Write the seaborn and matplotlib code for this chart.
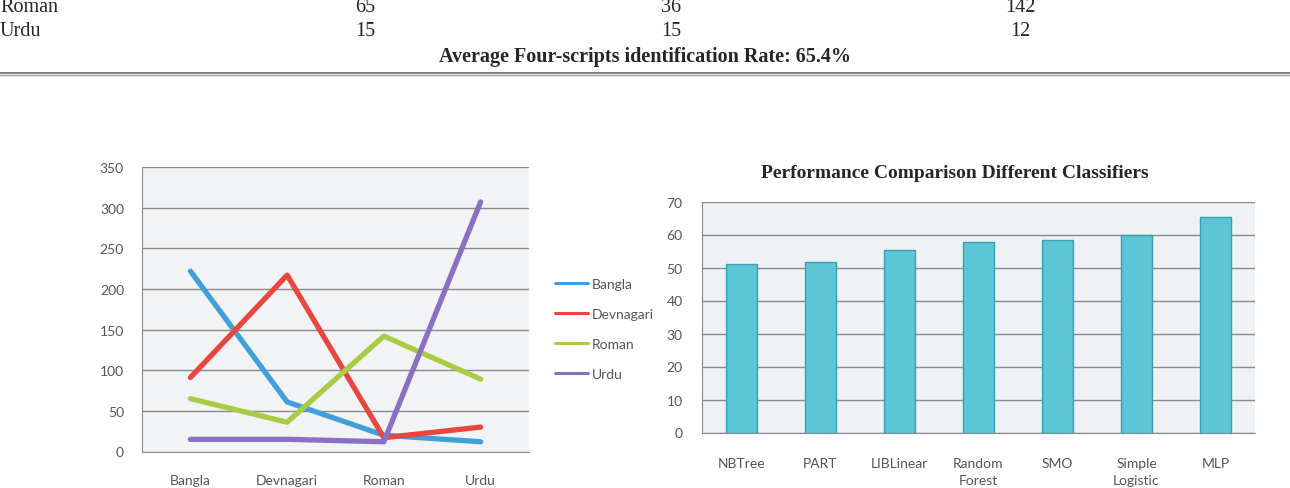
import numpy as np
import pandas as pd
import matplotlib
matplotlib.use("Agg")
import matplotlib.pyplot as plt
import seaborn as sns

# ---- data ----
scripts = ["Bangla", "Devnagari", "Roman", "Urdu"]
bangla = [222, 61, 20, 12]
devnagari = [91, 217, 17, 30]
roman = [65, 36, 142, 89]
urdu = [15, 15, 12, 307]

classifiers = ["NBTree", "PART", "LIBLinear", "Random\nForest", "SMO", "Simple\nLogistic", "MLP"]
accuracy = [51.0, 51.7, 55.3, 57.6, 58.2, 59.8, 65.4]

table_rows = ["Roman", "Urdu"]
table_vals = [["65", "36", "142"], ["15", "15", "12"]]
avg_text = "Average Four-scripts identification Rate: 65.4%"

line_colors = ["#419fd9", "#e8463f", "#a8cd45", "#8a6fc4"]

sns.set_style("white")
plt.rcParams['font.family'] = ['Lato', 'DejaVu Sans']
txt_col = "#555555"

fig = plt.figure(figsize=(12.9, 4.89), dpi=100)

# ---- table fragment at top (serif text) ----
serif = ['Liberation Serif', 'DejaVu Serif']
col_x = [365 / 1290, 671 / 1290, 1020 / 1290]
row_y = [1 - 8 / 489, 1 - 31 / 489]
for r, name in enumerate(table_rows):
    fig.text(0.0, row_y[r], name, family=serif, fontsize=14.5, va="center", ha="left")
    for c, v in enumerate(table_vals[r]):
        fig.text(col_x[c], row_y[r], v, family=serif, fontsize=14.5, va="center", ha="center")
fig.text(645 / 1290, 1 - 57 / 489, avg_text, family=serif, fontsize=14.5, fontweight="bold",
         va="center", ha="center")
fig.add_artist(plt.Line2D([0, 1], [1 - 73.5 / 489, 1 - 73.5 / 489], color="#777777", lw=1.3))
fig.add_artist(plt.Line2D([0, 1], [1 - 76 / 489, 1 - 76 / 489], color="#999999", lw=1.0))

# ---- left: line chart ----
df = pd.DataFrame({
    "script": scripts * 4,
    "count": bangla + devnagari + roman + urdu,
    "series": ["Bangla"] * 4 + ["Devnagari"] * 4 + ["Roman"] * 4 + ["Urdu"] * 4,
})
ax1 = fig.add_axes([142 / 1290, 36.5 / 489, 387 / 1290, 284.5 / 489])
ax1.set_facecolor("#f1f3f5")
sns.lineplot(data=df, x="script", y="count", hue="series", palette=line_colors,
             linewidth=3.8, ax=ax1, sort=False, legend=True)
ax1.set_xlim(-0.5, 3.5)
ax1.set_ylim(0, 350)
ax1.set_yticks(range(0, 351, 50))
ax1.set_xlabel("")
ax1.set_ylabel("")
ax1.grid(axis="y", color="#8a8a8a", lw=1.0)
ax1.set_axisbelow(True)
ax1.set_xticks(range(4))
ax1.set_xticks(np.arange(-0.5, 4, 1), minor=True)
ax1.tick_params(axis="x", which="major", length=0, pad=16, labelsize=10, labelcolor=txt_col)
ax1.tick_params(axis="x", which="minor", length=5, color="#8a8a8a", direction="out")
ax1.tick_params(axis="y", length=5, color="#8a8a8a", direction="out", pad=8,
                labelsize=10, labelcolor=txt_col)
for s in ["top", "right"]:
    ax1.spines[s].set_visible(False)
for s in ["left", "bottom"]:
    ax1.spines[s].set_color("#8a8a8a")
leg = ax1.legend(loc="center left", bbox_to_anchor=(1.034, 0.432), frameon=False,
                 fontsize=10, handlelength=2.4, handletextpad=0.25, labelspacing=1.3)
for h in leg.get_lines():
    h.set_linewidth(2.2)
for t in leg.get_texts():
    t.set_color(txt_col)

# ---- right: bar chart ----
df2 = pd.DataFrame({"clf": classifiers, "acc": accuracy})
ax2 = fig.add_axes([702 / 1290, 55.5 / 489, 553 / 1290, 231 / 489])
ax2.set_facecolor("#eef2f4")
sns.barplot(data=df2, x="clf", y="acc", color="#5bc6d6", width=0.40,
            edgecolor="#3a9fb0", linewidth=1.0, saturation=1, ax=ax2)
ax2.set_xlim(-0.5, 6.5)
ax2.set_ylim(0, 70)
ax2.set_yticks(range(0, 71, 10))
ax2.set_xlabel("")
ax2.set_ylabel("")
ax2.grid(axis="y", color="#8a8a8a", lw=1.0)
ax2.set_axisbelow(True)
ax2.set_xticks(np.arange(-0.5, 7, 1), minor=True)
ax2.tick_params(axis="x", which="major", length=0, pad=18, labelsize=10, labelcolor=txt_col)
ax2.tick_params(axis="x", which="minor", length=5, color="#8a8a8a", direction="out")
ax2.tick_params(axis="y", length=5, color="#8a8a8a", direction="out", pad=9,
                labelsize=10, labelcolor=txt_col)
for lab in ax2.get_xticklabels():
    lab.set_linespacing(1.5)
for s in ["top", "right"]:
    ax2.spines[s].set_visible(False)
for s in ["left", "bottom"]:
    ax2.spines[s].set_color("#8a8a8a")
ax2.set_title("Performance Comparison Different Classifiers", family=serif,
              fontsize=14, fontweight="bold", pad=18, x=(955 - 702) / 553)

fig.savefig("out.png", dpi=100)
